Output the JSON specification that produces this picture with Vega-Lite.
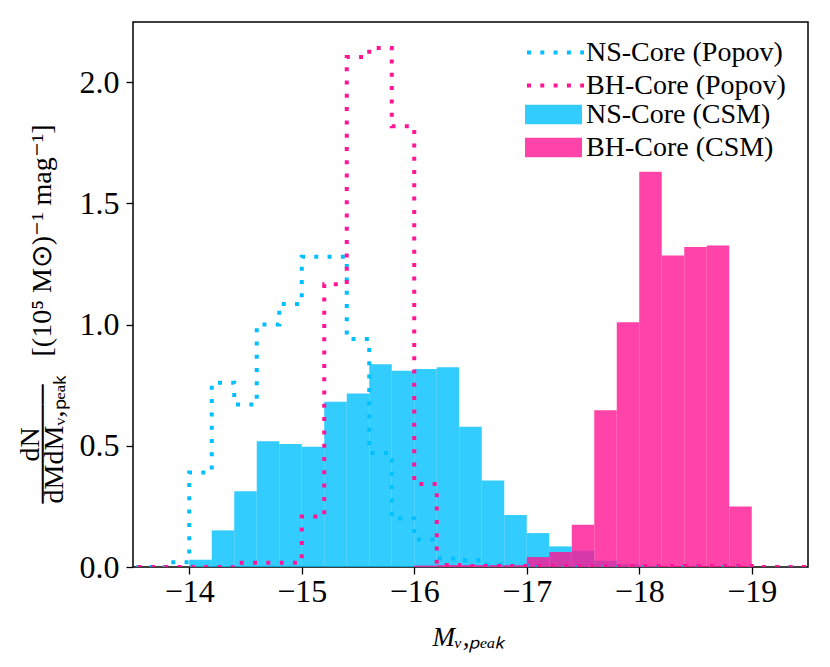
{
  "$schema": "https://vega.github.io/schema/vega-lite/v6.json",
  "width": 675,
  "height": 545,
  "autosize": {"type": "none"},
  "padding": {"left": 133, "top": 22, "right": 22, "bottom": 100},
  "background": "white",
  "config": {
    "font": "Liberation Serif",
    "view": {"stroke": "black", "strokeWidth": 1.5},
    "axis": {
      "domain": false,
      "grid": false,
      "tickColor": "black",
      "tickWidth": 1.3,
      "tickSize": 7,
      "labelColor": "black",
      "labelFont": "Liberation Serif",
      "labelFontSize": 32,
      "titleFont": "Liberation Serif",
      "titleColor": "black",
      "titleFontWeight": "normal"
    },
    "legend": {
      "labelFont": "Liberation Serif",
      "labelFontSize": 28,
      "labelColor": "black",
      "labelLimit": 400,
      "symbolSize": 3249,
      "clipHeight": 27,
      "rowPadding": 4,
      "padding": 4
    }
  },
  "datasets": {
    "csm": [
      {"series": "NS-Core (CSM)", "faint_edge": -14.0, "bright_edge": -14.2, "density": 0.03},
      {"series": "NS-Core (CSM)", "faint_edge": -14.2, "bright_edge": -14.4, "density": 0.151},
      {"series": "NS-Core (CSM)", "faint_edge": -14.4, "bright_edge": -14.6, "density": 0.312},
      {"series": "NS-Core (CSM)", "faint_edge": -14.6, "bright_edge": -14.8, "density": 0.519},
      {"series": "NS-Core (CSM)", "faint_edge": -14.8, "bright_edge": -15.0, "density": 0.507},
      {"series": "NS-Core (CSM)", "faint_edge": -15.0, "bright_edge": -15.2, "density": 0.496},
      {"series": "NS-Core (CSM)", "faint_edge": -15.2, "bright_edge": -15.4, "density": 0.682},
      {"series": "NS-Core (CSM)", "faint_edge": -15.4, "bright_edge": -15.6, "density": 0.716},
      {"series": "NS-Core (CSM)", "faint_edge": -15.6, "bright_edge": -15.8, "density": 0.836},
      {"series": "NS-Core (CSM)", "faint_edge": -15.8, "bright_edge": -16.0, "density": 0.809},
      {"series": "NS-Core (CSM)", "faint_edge": -16.0, "bright_edge": -16.2, "density": 0.817},
      {"series": "NS-Core (CSM)", "faint_edge": -16.2, "bright_edge": -16.4, "density": 0.824},
      {"series": "NS-Core (CSM)", "faint_edge": -16.4, "bright_edge": -16.6, "density": 0.579},
      {"series": "NS-Core (CSM)", "faint_edge": -16.6, "bright_edge": -16.8, "density": 0.357},
      {"series": "NS-Core (CSM)", "faint_edge": -16.8, "bright_edge": -17.0, "density": 0.214},
      {"series": "NS-Core (CSM)", "faint_edge": -17.0, "bright_edge": -17.2, "density": 0.14},
      {"series": "NS-Core (CSM)", "faint_edge": -17.2, "bright_edge": -17.4, "density": 0.085},
      {"series": "NS-Core (CSM)", "faint_edge": -17.4, "bright_edge": -17.6, "density": 0.067},
      {"series": "NS-Core (CSM)", "faint_edge": -17.6, "bright_edge": -17.8, "density": 0.026},
      {"series": "NS-Core (CSM)", "faint_edge": -17.8, "bright_edge": -18.0, "density": 0.012},
      {"series": "NS-Core (CSM)", "faint_edge": -18.0, "bright_edge": -18.2, "density": 0.005},
      {"series": "BH-Core (CSM)", "faint_edge": -16.0, "bright_edge": -16.2, "density": 0.006},
      {"series": "BH-Core (CSM)", "faint_edge": -16.2, "bright_edge": -16.4, "density": 0.008},
      {"series": "BH-Core (CSM)", "faint_edge": -16.4, "bright_edge": -16.6, "density": 0.008},
      {"series": "BH-Core (CSM)", "faint_edge": -16.6, "bright_edge": -16.8, "density": 0.008},
      {"series": "BH-Core (CSM)", "faint_edge": -16.8, "bright_edge": -17.0, "density": 0.008},
      {"series": "BH-Core (CSM)", "faint_edge": -17.0, "bright_edge": -17.2, "density": 0.041},
      {"series": "BH-Core (CSM)", "faint_edge": -17.2, "bright_edge": -17.4, "density": 0.062},
      {"series": "BH-Core (CSM)", "faint_edge": -17.4, "bright_edge": -17.6, "density": 0.174},
      {"series": "BH-Core (CSM)", "faint_edge": -17.6, "bright_edge": -17.8, "density": 0.647},
      {"series": "BH-Core (CSM)", "faint_edge": -17.8, "bright_edge": -18.0, "density": 1.01},
      {"series": "BH-Core (CSM)", "faint_edge": -18.0, "bright_edge": -18.2, "density": 1.63},
      {"series": "BH-Core (CSM)", "faint_edge": -18.2, "bright_edge": -18.4, "density": 1.285},
      {"series": "BH-Core (CSM)", "faint_edge": -18.4, "bright_edge": -18.6, "density": 1.32},
      {"series": "BH-Core (CSM)", "faint_edge": -18.6, "bright_edge": -18.8, "density": 1.326},
      {"series": "BH-Core (CSM)", "faint_edge": -18.8, "bright_edge": -19.0, "density": 0.25}
    ],
    "popov": [
      {"series": "NS-Core (Popov)", "faint_edge": -13.2, "bright_edge": -13.4, "density": 0},
      {"series": "NS-Core (Popov)", "faint_edge": -13.4, "bright_edge": -13.6, "density": 0},
      {"series": "NS-Core (Popov)", "faint_edge": -13.6, "bright_edge": -13.8, "density": 0},
      {"series": "NS-Core (Popov)", "faint_edge": -13.8, "bright_edge": -14.0, "density": 0.02},
      {"series": "NS-Core (Popov)", "faint_edge": -14.0, "bright_edge": -14.2, "density": 0.39},
      {"series": "NS-Core (Popov)", "faint_edge": -14.2, "bright_edge": -14.4, "density": 0.76},
      {"series": "NS-Core (Popov)", "faint_edge": -14.4, "bright_edge": -14.6, "density": 0.67},
      {"series": "NS-Core (Popov)", "faint_edge": -14.6, "bright_edge": -14.8, "density": 1.0},
      {"series": "NS-Core (Popov)", "faint_edge": -14.8, "bright_edge": -15.0, "density": 1.085},
      {"series": "NS-Core (Popov)", "faint_edge": -15.0, "bright_edge": -15.2, "density": 1.28},
      {"series": "NS-Core (Popov)", "faint_edge": -15.2, "bright_edge": -15.4, "density": 1.28},
      {"series": "NS-Core (Popov)", "faint_edge": -15.4, "bright_edge": -15.6, "density": 0.94},
      {"series": "NS-Core (Popov)", "faint_edge": -15.6, "bright_edge": -15.8, "density": 0.47},
      {"series": "NS-Core (Popov)", "faint_edge": -15.8, "bright_edge": -16.0, "density": 0.2},
      {"series": "NS-Core (Popov)", "faint_edge": -16.0, "bright_edge": -16.2, "density": 0.113},
      {"series": "NS-Core (Popov)", "faint_edge": -16.2, "bright_edge": -16.4, "density": 0.035},
      {"series": "NS-Core (Popov)", "faint_edge": -16.4, "bright_edge": -16.6, "density": 0.028},
      {"series": "NS-Core (Popov)", "faint_edge": -16.6, "bright_edge": -16.8, "density": 0.01},
      {"series": "NS-Core (Popov)", "faint_edge": -16.8, "bright_edge": -17.0, "density": 0.005},
      {"series": "NS-Core (Popov)", "faint_edge": -17.0, "bright_edge": -17.2, "density": 0},
      {"series": "NS-Core (Popov)", "faint_edge": -17.2, "bright_edge": -17.4, "density": 0},
      {"series": "NS-Core (Popov)", "faint_edge": -17.4, "bright_edge": -17.6, "density": 0},
      {"series": "NS-Core (Popov)", "faint_edge": -17.6, "bright_edge": -17.8, "density": 0},
      {"series": "NS-Core (Popov)", "faint_edge": -17.8, "bright_edge": -18.0, "density": 0},
      {"series": "NS-Core (Popov)", "faint_edge": -18.0, "bright_edge": -18.2, "density": 0},
      {"series": "NS-Core (Popov)", "faint_edge": -18.2, "bright_edge": -18.4, "density": 0},
      {"series": "NS-Core (Popov)", "faint_edge": -18.4, "bright_edge": -18.6, "density": 0},
      {"series": "NS-Core (Popov)", "faint_edge": -18.6, "bright_edge": -18.8, "density": 0},
      {"series": "NS-Core (Popov)", "faint_edge": -18.8, "bright_edge": -19.0, "density": 0},
      {"series": "NS-Core (Popov)", "faint_edge": -19.0, "bright_edge": -19.2, "density": 0},
      {"series": "NS-Core (Popov)", "faint_edge": -19.2, "bright_edge": -19.4, "density": 0},
      {"series": "NS-Core (Popov)", "faint_edge": -19.4, "bright_edge": -19.6, "density": 0},
      {"series": "BH-Core (Popov)", "faint_edge": -13.2, "bright_edge": -13.4, "density": 0},
      {"series": "BH-Core (Popov)", "faint_edge": -13.4, "bright_edge": -13.6, "density": 0},
      {"series": "BH-Core (Popov)", "faint_edge": -13.6, "bright_edge": -13.8, "density": 0},
      {"series": "BH-Core (Popov)", "faint_edge": -13.8, "bright_edge": -14.0, "density": 0},
      {"series": "BH-Core (Popov)", "faint_edge": -14.0, "bright_edge": -14.2, "density": 0},
      {"series": "BH-Core (Popov)", "faint_edge": -14.2, "bright_edge": -14.4, "density": 0},
      {"series": "BH-Core (Popov)", "faint_edge": -14.4, "bright_edge": -14.6, "density": 0.018},
      {"series": "BH-Core (Popov)", "faint_edge": -14.6, "bright_edge": -14.8, "density": 0.018},
      {"series": "BH-Core (Popov)", "faint_edge": -14.8, "bright_edge": -15.0, "density": 0.018},
      {"series": "BH-Core (Popov)", "faint_edge": -15.0, "bright_edge": -15.2, "density": 0.208},
      {"series": "BH-Core (Popov)", "faint_edge": -15.2, "bright_edge": -15.4, "density": 1.166},
      {"series": "BH-Core (Popov)", "faint_edge": -15.4, "bright_edge": -15.6, "density": 2.104},
      {"series": "BH-Core (Popov)", "faint_edge": -15.6, "bright_edge": -15.8, "density": 2.141},
      {"series": "BH-Core (Popov)", "faint_edge": -15.8, "bright_edge": -16.0, "density": 1.818},
      {"series": "BH-Core (Popov)", "faint_edge": -16.0, "bright_edge": -16.2, "density": 0.342},
      {"series": "BH-Core (Popov)", "faint_edge": -16.2, "bright_edge": -16.4, "density": 0.008},
      {"series": "BH-Core (Popov)", "faint_edge": -16.4, "bright_edge": -16.6, "density": 0.004},
      {"series": "BH-Core (Popov)", "faint_edge": -16.6, "bright_edge": -16.8, "density": 0.004},
      {"series": "BH-Core (Popov)", "faint_edge": -16.8, "bright_edge": -17.0, "density": 0.004},
      {"series": "BH-Core (Popov)", "faint_edge": -17.0, "bright_edge": -17.2, "density": 0.004},
      {"series": "BH-Core (Popov)", "faint_edge": -17.2, "bright_edge": -17.4, "density": 0.004},
      {"series": "BH-Core (Popov)", "faint_edge": -17.4, "bright_edge": -17.6, "density": 0.004},
      {"series": "BH-Core (Popov)", "faint_edge": -17.6, "bright_edge": -17.8, "density": 0.004},
      {"series": "BH-Core (Popov)", "faint_edge": -17.8, "bright_edge": -18.0, "density": 0.004},
      {"series": "BH-Core (Popov)", "faint_edge": -18.0, "bright_edge": -18.2, "density": 0.004},
      {"series": "BH-Core (Popov)", "faint_edge": -18.2, "bright_edge": -18.4, "density": 0.004},
      {"series": "BH-Core (Popov)", "faint_edge": -18.4, "bright_edge": -18.6, "density": 0.004},
      {"series": "BH-Core (Popov)", "faint_edge": -18.6, "bright_edge": -18.8, "density": 0.004},
      {"series": "BH-Core (Popov)", "faint_edge": -18.8, "bright_edge": -19.0, "density": 0.004},
      {"series": "BH-Core (Popov)", "faint_edge": -19.0, "bright_edge": -19.2, "density": 0},
      {"series": "BH-Core (Popov)", "faint_edge": -19.2, "bright_edge": -19.4, "density": 0},
      {"series": "BH-Core (Popov)", "faint_edge": -19.4, "bright_edge": -19.6, "density": 0}
    ]
  },
  "layer": [
    {
      "data": {"name": "csm"},
      "mark": {"type": "bar", "opacity": 0.8, "strokeWidth": 0, "clip": true},
      "encoding": {
        "x": {
          "field": "faint_edge",
          "type": "quantitative",
          "scale": {"domain": [-19.5, -13.5], "reverse": true, "nice": false, "zero": false},
          "axis": {
            "values": [-14, -15, -16, -17, -18, -19],
            "format": "d",
            "labelPadding": 2,
            "title": "Mᵥ,ₚₑₐₖ",
            "titleFontStyle": "italic",
            "titleFontSize": 27,
            "titleX": 335,
            "titleY": 78,
            "titleAlign": "center",
            "titleBaseline": "alphabetic"
          }
        },
        "x2": {"field": "bright_edge"},
        "y": {
          "field": "density",
          "type": "quantitative",
          "stack": null,
          "scale": {"domain": [0, 2.248], "nice": false},
          "axis": {
            "values": [0, 0.5, 1, 1.5, 2],
            "format": ".1f",
            "labelPadding": 7,
            "title": ["\u200B\u00A0\u00A0\u00A0\u00A0\u00A0\u00A0dN", "\u2500\u2500\u2500\u2500\u2500\u2500\u2003[(10⁵ M⊙)⁻¹ mag⁻¹]", "dMdMᵥ,ₚₑₐₖ"],
            "titleX": -95,
            "titleY": 481,
            "titleAngle": 270,
            "titleAlign": "left",
            "titleBaseline": "alphabetic",
            "titleFontSize": 28,
            "titleLineHeight": 12
          }
        },
        "y2": {"datum": 0},
        "fill": {
          "field": "series",
          "type": "nominal",
          "scale": {
            "domain": ["NS-Core (CSM)", "BH-Core (CSM)"],
            "range": ["#00BFFF", "#FF1493"]
          },
          "legend": {
            "orient": "none",
            "legendX": 388,
            "legendY": 75,
            "title": null,
            "symbolType": "M-1,-0.34H1V0.34H-1Z",
            "symbolStrokeWidth": 0,
            "symbolOpacity": 0.8,
            "labelOffset": 4
          }
        }
      }
    },
    {
      "data": {"name": "popov"},
      "mark": {"type": "line", "interpolate": "step-after", "strokeDash": [4, 9.3], "strokeWidth": 4, "strokeCap": "butt", "clip": true},
      "encoding": {
        "x": {"field": "bright_edge", "type": "quantitative"},
        "y": {"field": "density", "type": "quantitative"},
        "order": {"field": "bright_edge", "sort": "ascending"},
        "stroke": {
          "field": "series",
          "type": "nominal",
          "scale": {
            "domain": ["NS-Core (Popov)", "BH-Core (Popov)"],
            "range": ["#00BFFF", "#FF1493"]
          },
          "legend": {
            "orient": "none",
            "legendX": 388,
            "legendY": 13,
            "title": null,
            "symbolType": "stroke",
            "symbolStrokeWidth": 4,
            "symbolDash": [4, 9.3],
            "labelOffset": 0
          }
        }
      }
    }
  ]
}
